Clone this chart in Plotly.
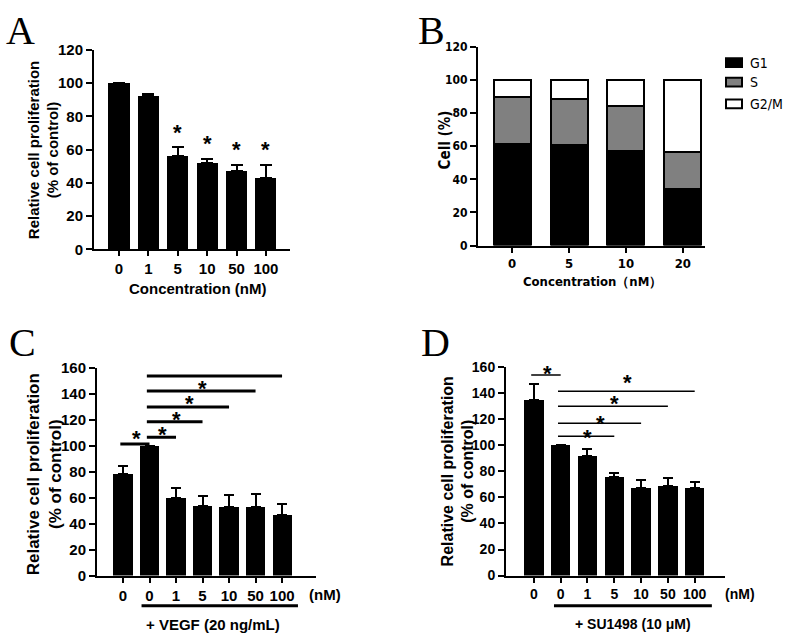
import plotly.graph_objects as go

W, H = 787, 640

# ---------------- data ----------------
A_labels = ["0", "1", "5", "10", "50", "100"]
A_values = [100, 92.5, 56, 52, 47, 43]
A_err = [0, 1, 5.5, 2.5, 4, 8]
A_star = [False, False, True, True, True, True]

B_labels = ["0", "5", "10", "20"]
B_phases = ["G1", "S", "G2/M"]
B_G1 = [61.5, 60.5, 57, 34]
B_S = [28, 28, 27.5, 22.5]
B_G2M = [10.5, 11.5, 15.5, 43.5]

C_labels = ["0", "0", "1", "5", "10", "50", "100"]
C_values = [78, 100, 59.5, 54, 53, 53, 47]
C_err = [6.5, 0, 8, 7, 9, 10, 8.5]
C_pairs = [(0, 1), (1, 2), (1, 3), (1, 4), (1, 5), (1, 6)]
C_line_y = [101.6, 106.7, 118.7, 130, 142.5, 154]
C_star_y = [109.7, 112.7, 124, 136.7, 148, 161]

D_labels = ["0", "0", "1", "5", "10", "50", "100"]
D_values = [135, 100, 92, 75.5, 67, 68.5, 67]
D_err = [12, 0, 5.5, 3.5, 6, 6.5, 5]
D_pairs = [(0, 1), (1, 6), (1, 5), (1, 4), (1, 3)]
D_line_y = [154, 141.5, 130, 117, 107]
D_star_y = [159, 152, 136, 121, 110]

ARIAL = "Liberation Sans, Arial, sans-serif"
NARROW = "DejaVu Sans Condensed, Liberation Sans, sans-serif"
SERIF = "Liberation Serif, Times New Roman, serif"
B_colors = ["black", "#808080", "white"]


def px_x(p):
    return p / W


def px_y(p):
    return 1 - p / H


fig = go.Figure()

# Panel A
fig.add_trace(go.Bar(
    x=list(range(len(A_values))), y=A_values, width=0.72,
    marker=dict(color="black", line=dict(width=0)),
    error_y=dict(type="data", symmetric=False, array=A_err,
                 arrayminus=[0] * len(A_err), color="black", thickness=2, width=6),
    xaxis="x", yaxis="y", showlegend=False, hoverinfo="skip"))

# Panel B (stacked)
B_x = list(range(len(B_labels)))
for name, vals, col in zip(B_phases, [B_G1, B_S, B_G2M], B_colors):
    fig.add_trace(go.Bar(
        x=B_x, y=vals, width=0.65, name=name,
        marker=dict(color=col, line=dict(color="black", width=2)),
        xaxis="x2", yaxis="y2", showlegend=False, hoverinfo="skip"))

# Panel C
fig.add_trace(go.Bar(
    x=list(range(len(C_values))), y=C_values, width=0.72,
    marker=dict(color="black", line=dict(width=0)),
    error_y=dict(type="data", symmetric=False, array=C_err,
                 arrayminus=[0] * len(C_err), color="black", thickness=2, width=5),
    xaxis="x3", yaxis="y3", showlegend=False, hoverinfo="skip"))

# Panel D
fig.add_trace(go.Bar(
    x=list(range(len(D_values))), y=D_values, width=0.72,
    marker=dict(color="black", line=dict(width=0)),
    error_y=dict(type="data", symmetric=False, array=D_err,
                 arrayminus=[0] * len(D_err), color="black", thickness=2, width=5),
    xaxis="x4", yaxis="y4", showlegend=False, hoverinfo="skip"))


def xax(domain, rng, labels, font_family, size, anchor):
    return dict(domain=domain, range=rng, anchor=anchor,
                tickmode="array", tickvals=list(range(len(labels))), ticktext=labels,
                showline=True, linecolor="black", linewidth=2,
                ticks="outside", ticklen=5, tickwidth=2, tickcolor="black",
                tickfont=dict(family=font_family, size=size, color="black", weight="bold"),
                showgrid=False, zeroline=False, fixedrange=True)


def yax(domain, rng, dtick, font_family, size, anchor):
    return dict(domain=domain, range=rng, anchor=anchor, dtick=dtick, tick0=0,
                showline=True, linecolor="black", linewidth=2,
                ticks="outside", ticklen=6, tickwidth=2, tickcolor="black",
                tickfont=dict(family=font_family, size=size, color="black", weight="bold"),
                showgrid=False, zeroline=False, fixedrange=True)


fig.update_layout(
    width=W, height=H, margin=dict(l=0, r=0, t=0, b=0),
    paper_bgcolor="white", plot_bgcolor="white", barmode="stack",
    xaxis=xax([px_x(94), px_x(290)], [-0.85, 5.82], A_labels, ARIAL, 15, "y"),
    yaxis=yax([px_y(247), px_y(42)], [0, 120], 20, ARIAL, 15, "x"),
    xaxis2=xax([px_x(478), px_x(705)], [-0.6, 3.39], B_labels, NARROW, 13, "y2"),
    yaxis2=yax([px_y(243), px_y(39)], [0, 120], 20, NARROW, 12, "x2"),
    xaxis3=xax([px_x(97), px_x(316)], [-0.98, 7.28], C_labels, ARIAL, 15, "y3"),
    yaxis3=yax([px_y(582), px_y(369)], [0, 160], 20, ARIAL, 15, "x3"),
    xaxis4=xax([px_x(506), px_x(725)], [-1.04, 7.13], D_labels, ARIAL, 14, "y4"),
    yaxis4=yax([px_y(582), px_y(368)], [0, 160], 20, ARIAL, 14, "x4"),
)

ann = []
shapes = []


def text(x, y, s, size, family=ARIAL, bold=True, angle=0, xref="paper", yref="paper",
         yshift=0, xanchor="center"):
    ann.append(dict(x=x, y=y, xref=xref, yref=yref, text=s, showarrow=False,
                    textangle=angle, xanchor=xanchor, yanchor="middle", yshift=yshift,
                    font=dict(family=family, size=size, color="black",
                              weight="bold" if bold else "normal")))


# Panel letters
text(px_x(20), px_y(22), "A", 40, SERIF, bold=False)
text(px_x(431), px_y(22), "B", 40, SERIF, bold=False)
text(px_x(22), px_y(343), "C", 40, SERIF, bold=False)
text(px_x(435), px_y(343), "D", 40, SERIF, bold=False)

# Axis titles
text(px_x(43), px_y(145), "Relative cell proliferation<br>(% of control)", 15, angle=-90)
text(px_x(197), px_y(287), "Concentration (nM)", 15)
text(px_x(445), px_y(135), "Cell (%)", 15, NARROW, angle=-90)
text(px_x(592), px_y(280), "Concentration（nM）", 13, NARROW)
text(px_x(44), px_y(478), "Relative cell proliferation<br>(% of control)", 17, angle=-90)
text(px_x(458), px_y(475), "Relative cell proliferation<br>(% of control)", 16, angle=-90)

# Custom legend for panel B
legend_y = [55, 75, 97.5]
for name, col, ly in zip(B_phases, B_colors, legend_y):
    shapes.append(dict(type="rect", xref="paper", yref="paper",
                       x0=px_x(726), x1=px_x(742), y0=px_y(ly - 4.5), y1=px_y(ly + 4.5),
                       fillcolor=col, line=dict(color="black", width=2)))
    text(px_x(748), px_y(ly), name, 14, NARROW, bold=False, xanchor="left")

# (nM) labels and treatment labels
text(px_x(325), px_y(601), "(nM)", 15)
text(px_x(740), px_y(601), "(nM)", 14)
text(px_x(213), px_y(632), "+ VEGF (20 ng/mL)", 15)
text(px_x(633), px_y(632), "+ SU1498 (10 μM)", 14)

# underline bars for treatment groups
shapes.append(dict(type="line", xref="x3", yref="paper", x0=0.7, x1=6.6,
                   y0=px_y(613), y1=px_y(613), line=dict(color="black", width=3)))
shapes.append(dict(type="line", xref="x4", yref="paper", x0=0.75, x1=6.64,
                   y0=px_y(613), y1=px_y(613), line=dict(color="black", width=3)))

# Panel A stars
for i, (v, e, s) in enumerate(zip(A_values, A_err, A_star)):
    if s:
        text(i, v + e, "*", 22, xref="x", yref="y", yshift=15)

# Panel C brackets
for (a, b), ly, sy in zip(C_pairs, C_line_y, C_star_y):
    shapes.append(dict(type="line", xref="x3", yref="y3", x0=a - 0.1, x1=b, y0=ly, y1=ly,
                       line=dict(color="black", width=3)))
    text((a + b) / 2, sy, "*", 22, xref="x3", yref="y3", yshift=-5)

# Panel D brackets
for (a, b), ly, sy in zip(D_pairs, D_line_y, D_star_y):
    shapes.append(dict(type="line", xref="x4", yref="y4", x0=a - 0.1, x1=b, y0=ly, y1=ly,
                       line=dict(color="black", width=1.5)))
    text((a + b) / 2, sy, "*", 22, xref="x4", yref="y4", yshift=-5)

fig.update_layout(annotations=ann, shapes=shapes)
fig.write_html("out.html", config={"displayModeBar": False},
               post_script="document.body.style.margin='0';")
